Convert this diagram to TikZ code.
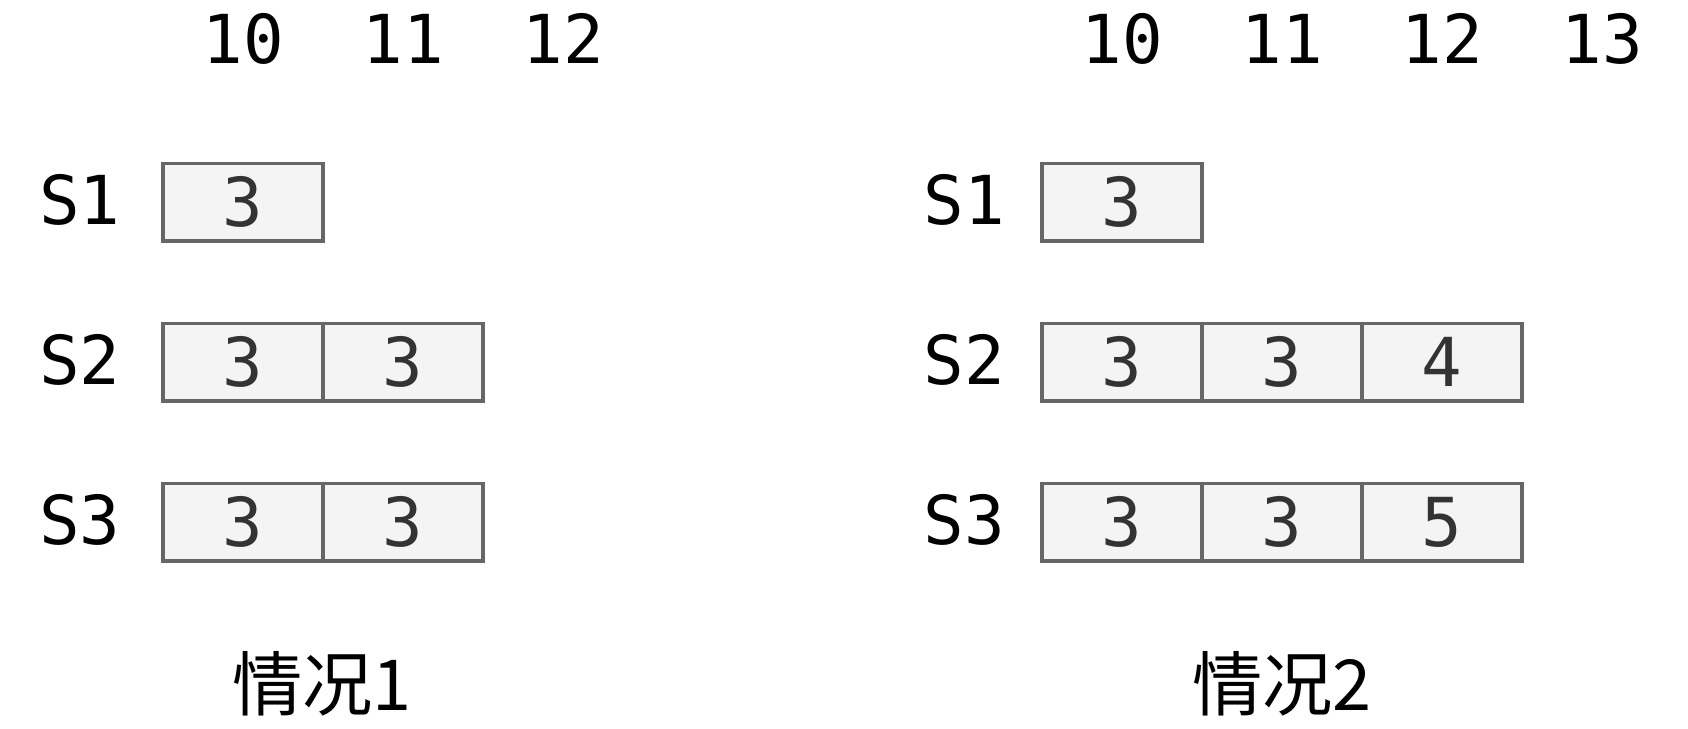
\documentclass[tikz,border=0pt]{standalone}
\usepackage{fontspec}
\setmainfont{DejaVu Sans Mono}
\newfontfamily\cjk{Noto Sans CJK SC}
\definecolor{cellfill}{HTML}{F4F4F4}
\definecolor{cellline}{HTML}{666666}
\definecolor{celltext}{HTML}{333333}

\begin{document}
\begin{tikzpicture}[x=0.0125cm,y=-0.0125cm]
	\tikzstyle{slot}=[rectangle,draw=cellline,line width=1.2pt,fill=cellfill,text=celltext,minimum width=2cm,minimum height=0.97cm,inner sep=0pt,font=\fontsize{24}{28}\selectfont]
	\tikzstyle{tick}=[anchor=base,font=\fontsize{24}{28}\selectfont]
	\tikzstyle{rowlabel}=[anchor=base,font=\fontsize{24}{28}\selectfont]
	\tikzstyle{casetitle}=[anchor=base,font=\cjk\fontsize{25}{30}\selectfont]
	\useasboundingbox (0,0) rectangle (1688,728);
	% case 1
	\node[tick] (a10) at (243,64){10};
	\node[tick] (a11) at (403,64){11};
	\node[tick] (a12) at (563,64){12};
	\node[rowlabel] (aS1) at (80,224){S1};
	\node[rowlabel] (aS2) at (80,384){S2};
	\node[rowlabel] (aS3) at (80,544){S3};
	\node[slot] (a11c) at (243,202){3};
	\node[slot] (a21c) at (243,362){3};
	\node[slot] (a22c) at (403,362){3};
	\node[slot] (a31c) at (243,522){3};
	\node[slot] (a32c) at (403,522){3};
	\node[casetitle] (acase) at (322,710){情况1};
	% case 2
	\node[tick] (b10) at (1122,64){10};
	\node[tick] (b11) at (1282,64){11};
	\node[tick] (b12) at (1442,64){12};
	\node[tick] (b13) at (1602,64){13};
	\node[rowlabel] (bS1) at (964,224){S1};
	\node[rowlabel] (bS2) at (964,384){S2};
	\node[rowlabel] (bS3) at (964,544){S3};
	\node[slot] (b11c) at (1122,202){3};
	\node[slot] (b21c) at (1122,362){3};
	\node[slot] (b22c) at (1282,362){3};
	\node[slot] (b23c) at (1442,362){4};
	\node[slot] (b31c) at (1122,522){3};
	\node[slot] (b32c) at (1282,522){3};
	\node[slot] (b33c) at (1442,522){5};
	\node[casetitle] (bcase) at (1282,710){情况2};
\end{tikzpicture}
\end{document}
